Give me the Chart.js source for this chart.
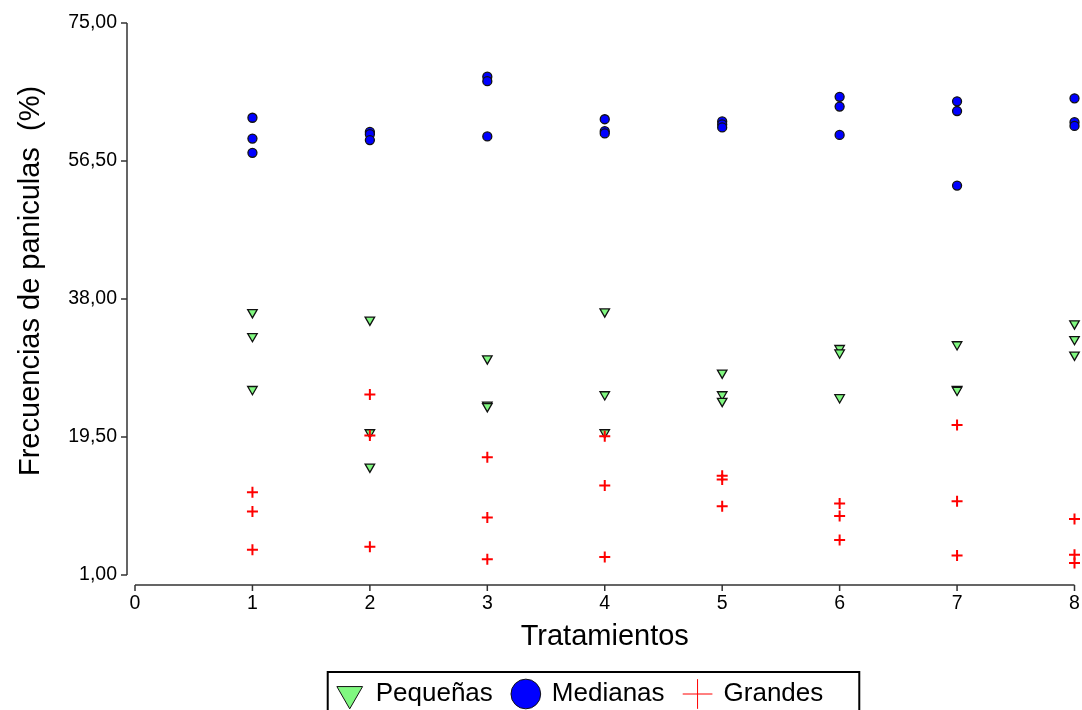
<!DOCTYPE html>
<html>
<head>
<meta charset="utf-8">
<script src="https://cdn.jsdelivr.net/npm/chart.js@4/dist/chart.umd.min.js"></script>
<style>
  html, body { margin: 0; padding: 0; background: #fff; }
  #wrap { width: 1082px; height: 710px; position: relative; }
</style>
</head>
<body>
<div id="wrap"><canvas id="grafico" width="1082" height="710"></canvas></div>
<script>
// Tratamientos (eje X) y frecuencias (%) de cada repetición por tamaño de panícula
const tratamientos = [1, 2, 3, 4, 5, 6, 7, 8];
const pequenas = [
  [36.2, 33.0, 25.9], [35.2, 20.1, 15.5], [30.0, 23.8, 23.6], [36.3, 25.2, 20.1],
  [28.1, 25.2, 24.3], [31.4, 30.8, 24.8], [31.9, 25.9, 25.8], [34.7, 32.6, 30.5]
];
const medianas = [
  [62.3, 59.5, 57.6], [60.4, 60.1, 59.3], [67.8, 67.2, 59.8], [62.1, 60.5, 60.2],
  [61.8, 61.4, 61.0], [65.1, 63.8, 60.0], [64.5, 63.2, 53.2], [64.9, 61.7, 61.2]
];
const grandes = [
  [12.1, 9.5, 4.4], [25.2, 19.7, 4.8], [16.8, 8.7, 3.1], [19.6, 13.0, 3.4],
  [14.3, 13.8, 10.2], [10.6, 8.9, 5.7], [21.1, 10.9, 3.6], [8.5, 3.7, 2.6]
];
const ticksX = [0, 1, 2, 3, 4, 5, 6, 7, 8];
const ticksY = [1.0, 19.5, 38.0, 56.5, 75.0];
const tituloX = 'Tratamientos';
const tituloY = 'Frecuencias de paniculas  (%)';
const nombres = ['Pequeñas', 'Medianas', 'Grandes'];

const FAMILIA = '"Liberation Sans", Arial, Helvetica, sans-serif';
Chart.defaults.font.family = FAMILIA;
Chart.defaults.color = '#000';

const puntos = (serie) => tratamientos.flatMap((t, i) => serie[i].map(v => ({ x: t, y: v })));

// Ejes separados del área de datos, con marcas hacia afuera
const ejes = {
  id: 'ejes',
  afterDraw(chart) {
    const { ctx, chartArea: a, scales: { x, y } } = chart;
    ctx.save();
    ctx.strokeStyle = '#333';
    ctx.lineWidth = 1.5;
    ctx.beginPath();
    const ex = a.left - 8;
    ctx.moveTo(ex, y.getPixelForValue(y.max));
    ctx.lineTo(ex, y.getPixelForValue(y.min));
    y.ticks.forEach(t => {
      const p = y.getPixelForValue(t.value);
      ctx.moveTo(ex - 6, p); ctx.lineTo(ex, p);
    });
    const ey = a.bottom + 10;
    ctx.moveTo(x.getPixelForValue(x.min), ey);
    ctx.lineTo(x.getPixelForValue(x.max), ey);
    x.ticks.forEach(t => {
      const p = x.getPixelForValue(t.value);
      ctx.moveTo(p, ey); ctx.lineTo(p, ey + 6);
    });
    ctx.stroke();

    // Título del eje Y
    ctx.fillStyle = '#000';
    ctx.font = '29px ' + FAMILIA;
    ctx.textAlign = 'left';
    ctx.textBaseline = 'middle';
    ctx.translate(31, 476);
    ctx.rotate(-Math.PI / 2);
    ctx.fillText(tituloY, 0, 0);
    ctx.restore();
  }
};

// Leyenda desplazada y enmarcada
const marcoLeyenda = {
  id: 'marcoLeyenda',
  afterLayout(chart) {
    const lg = chart.legend;
    const dx = 580 - (lg.left + lg.right) / 2;
    lg.left += dx; lg.right += dx;
    const dy = 661 - lg.top;
    lg.top += dy; lg.bottom += dy;
  },
  afterDraw(chart) {
    const lg = chart.legend;
    const pad = lg.options.labels.padding;
    const w = lg.lineWidths[0];
    const inicio = (lg.left + pad + lg.right - w) / 2;
    const fin = inicio + w - pad;
    const { ctx } = chart;
    ctx.save();
    ctx.strokeStyle = '#000';
    ctx.lineWidth = 2;
    ctx.strokeRect(inicio - 9, lg.top + 11, fin - inicio + 45, 60);
    ctx.restore();
  }
};

new Chart(document.getElementById('grafico'), {
  type: 'scatter',
  data: {
    datasets: [
      {
        label: nombres[0], data: puntos(pequenas), order: 2, clip: false,
        pointStyle: 'triangle', pointRotation: 180, pointRadius: 5.5,
        backgroundColor: '#80f880', borderColor: '#111', borderWidth: 1.3
      },
      {
        label: nombres[1], data: puntos(medianas), order: 1, clip: false,
        pointStyle: 'circle', pointRadius: 4.5,
        backgroundColor: '#0000ff', borderColor: '#111', borderWidth: 1.3
      },
      {
        label: nombres[2], data: puntos(grandes), order: 0, clip: false,
        pointStyle: 'cross', pointRadius: 5.5,
        backgroundColor: '#ff0000', borderColor: '#ff0000', borderWidth: 2
      }
    ]
  },
  options: {
    responsive: false,
    animation: false,
    devicePixelRatio: 1,
    layout: { padding: { top: 23, right: 0, bottom: 0, left: 0 } },
    scales: {
      x: {
        type: 'linear', min: 0, max: 8,
        afterBuildTicks: s => { s.ticks = ticksX.map(v => ({ value: v })); },
        afterFit: s => { s.height = 79; s.paddingLeft = 0; s.paddingRight = 0; },
        grid: { display: false, drawTicks: false },
        border: { display: false },
        ticks: { padding: 17, font: { size: 19.5 }, color: '#000', callback: v => String(v) },
        title: { display: true, text: tituloX, font: { size: 29 }, color: '#000', padding: { top: 0, bottom: 0 } }
      },
      y: {
        type: 'linear', min: 1, max: 75,
        afterBuildTicks: s => { s.ticks = ticksY.map(v => ({ value: v })); },
        afterFit: s => { s.width = 135; s.paddingTop = 0; s.paddingBottom = 0; },
        grid: { display: false, drawTicks: false },
        border: { display: false },
        ticks: { padding: 18, font: { size: 19.5 }, color: '#000', callback: v => v.toFixed(2).replace('.', ',') }
      }
    },
    plugins: {
      tooltip: { enabled: false },
      legend: {
        position: 'bottom',
        labels: {
          usePointStyle: true,
          boxHeight: 21,
          padding: 20,
          font: { size: 26 },
          color: '#000',
          sort: (a, b) => a.datasetIndex - b.datasetIndex,
          generateLabels: chart => Chart.defaults.plugins.legend.labels.generateLabels(chart)
            .map(l => ({ ...l, lineWidth: 1 }))
        }
      }
    }
  },
  plugins: [ejes, marcoLeyenda]
});
</script>
</body>
</html>
